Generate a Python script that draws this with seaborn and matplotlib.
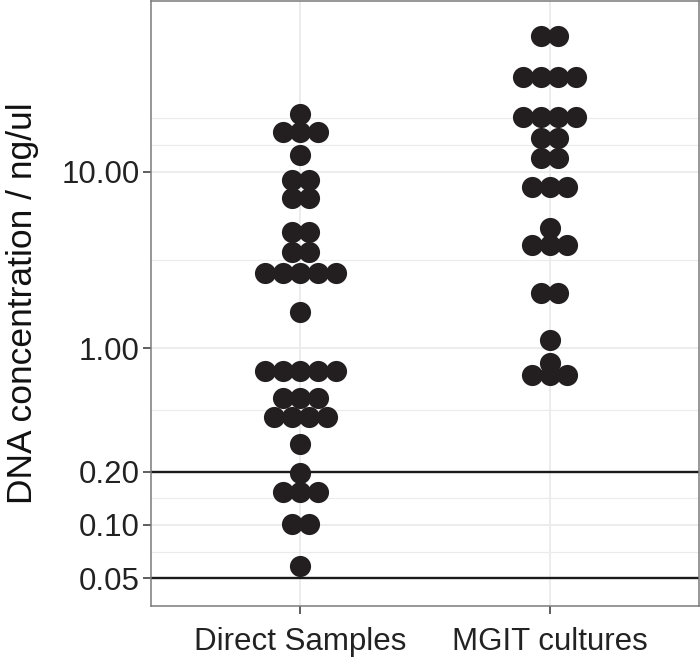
import numpy as np
import pandas as pd
import matplotlib
matplotlib.use("Agg")
import matplotlib.pyplot as plt
import seaborn as sns

# ---- data ----
categories = ["Direct Samples", "MGIT cultures"]

direct_values = [21.2,
                 16.8, 16.8, 16.8,
                 12.4,
                 8.97, 8.97,
                 7.09, 7.09,
                 4.55, 4.55,
                 3.51, 3.51,
                 2.67, 2.67, 2.67, 2.67, 2.67,
                 1.60,
                 0.744, 0.744, 0.744, 0.744, 0.744,
                 0.523, 0.523, 0.523,
                 0.409, 0.409, 0.409, 0.409,
                 0.287,
                 0.197,
                 0.154, 0.154, 0.154,
                 0.101, 0.101,
                 0.0586]

mgit_values = [58.5, 58.5,
               34.4, 34.4, 34.4, 34.4,
               20.3, 20.3, 20.3, 20.3,
               15.4, 15.4,
               11.9, 11.9,
               8.22, 8.22, 8.22,
               4.78,
               3.84, 3.84, 3.84,
               2.05, 2.05,
               1.11,
               0.822,
               0.706, 0.706, 0.706]

major_breaks = [0.05, 0.10, 0.20, 1.00, 10.00]
major_labels = ["0.05", "0.10", "0.20", "1.00", "10.00"]
extra_grid = [0.0707, 0.1414, 0.447, 3.162, 14.14, 20.0]
threshold_lines = [0.2, 0.05]

# ---- dot-plot layout: stack equal values side by side, centred ----
step = 0.0708
rows = []
for ci, (cat, vals) in enumerate(zip(categories, [direct_values, mgit_values])):
    s = pd.Series(vals)
    for v, n in s.value_counts(sort=False).items():
        offs = (np.arange(n) - (n - 1) / 2) * step
        for o in offs:
            rows.append({"group": cat, "xpos": ci + o, "value": v})
df = pd.DataFrame(rows)

sns.set_theme(style="white")
plt.rcParams["font.family"] = ["Liberation Sans", "DejaVu Sans"]

fig = plt.figure(figsize=(7.0, 6.62), dpi=100)
ax = fig.add_axes([151 / 700, 1 - 606 / 662, 548 / 700, 605 / 662])

ax.set_yscale("log")
ax.set_ylim(0.03479, 92.4)
ax.set_xlim(-0.6, 1.6)

# grid
for g in extra_grid:
    ax.axhline(g, color="#ebebeb", lw=0.8, zorder=0)
for g in major_breaks:
    ax.axhline(g, color="#ebebeb", lw=1.3, zorder=0)
for xi in range(len(categories)):
    ax.axvline(xi, color="#ebebeb", lw=1.3, zorder=0)

for h in threshold_lines:
    ax.axhline(h, color="#1a1a1a", lw=1.7, zorder=1)

sns.scatterplot(data=df, x="xpos", y="value", ax=ax, color="#231f20",
                s=232, linewidth=0, legend=False, zorder=3)

ax.set_yticks(major_breaks)
ax.set_yticklabels(major_labels)
ax.yaxis.set_minor_locator(matplotlib.ticker.NullLocator())
ax.set_xticks(range(len(categories)))
ax.set_xticklabels(categories)

ax.tick_params(axis="both", which="major", length=6, width=1.1,
               color="#333333", labelcolor="#222222", labelsize=22.5,
               left=True, bottom=True, pad=2)
ax.tick_params(axis="x", pad=9)

ax.set_xlabel("")
ax.set_ylabel("DNA concentration / ng/ul", fontsize=25.5, color="#111111")
ax.yaxis.set_label_coords((39 - 151) / 548, 0.5)

for sp in ax.spines.values():
    sp.set_color("#7a7a7a")
    sp.set_linewidth(1.1)

fig.savefig("out.png", dpi=100, facecolor="white")
